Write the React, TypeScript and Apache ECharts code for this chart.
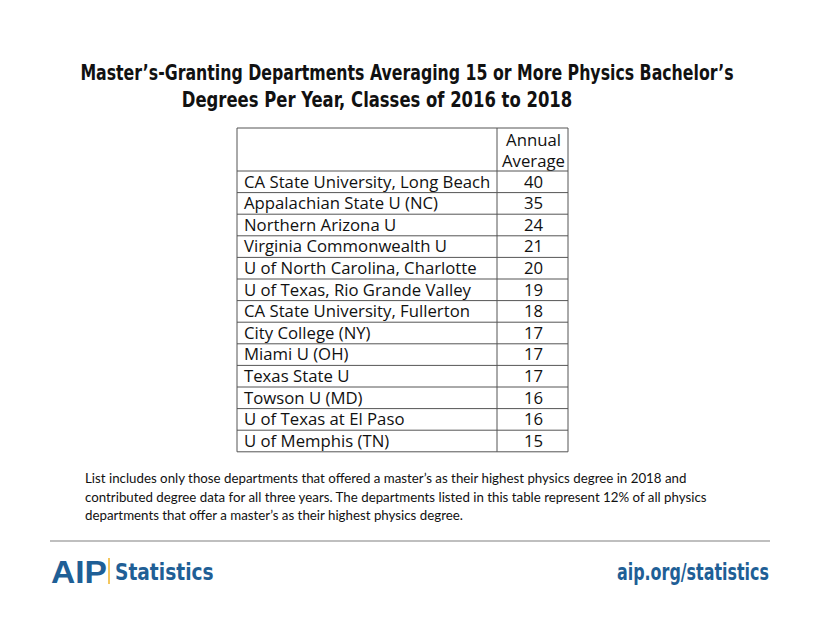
import React, { useEffect, useRef } from "react";
import * as echarts from "echarts";

const titleLines = [
  "Master\u2019s-Granting Departments Averaging 15 or More Physics Bachelor\u2019s",
  "Degrees Per Year, Classes of 2016 to 2018",
];
const headerLines = ["Annual", "Average"];
const departments = [
  "CA State University, Long Beach",
  "Appalachian State U (NC)",
  "Northern Arizona U",
  "Virginia Commonwealth U",
  "U of North Carolina, Charlotte",
  "U of Texas, Rio Grande Valley",
  "CA State University, Fullerton",
  "City College (NY)",
  "Miami U (OH)",
  "Texas State U",
  "Towson U (MD)",
  "U of Texas at El Paso",
  "U of Memphis (TN)",
];
const averages = [40, 35, 24, 21, 20, 19, 18, 17, 17, 17, 16, 16, 15];
const noteLines = [
  "List includes only those departments that offered a master\u2019s as their highest physics degree in 2018 and",
  "contributed degree data for all three years. The departments listed in this table represent 12% of all physics",
  "departments that offer a master\u2019s as their highest physics degree.",
];

const W = 820;
const H = 622;

export default function App() {
  const ref = useRef<HTMLDivElement>(null);
  useEffect(() => {
    document.body.style.margin = "0";
    const chart = echarts.init(ref.current!, null, { renderer: "svg", width: W, height: H });

    const tX0 = 237, tX1 = 568, tXd = 497;
    const tY0 = 128, hdrH = 43, rowH = 21.6;
    const lineColor = "#555";
    const tableFont = "'Open Sans', Lato, sans-serif";
    const condFont = "'DejaVu Sans Condensed', sans-serif";
    const cellScale = 1.08;
    const els: any[] = [];

    // table frame
    const tBottom = tY0 + hdrH + departments.length * rowH;
    els.push({
      type: "rect",
      shape: { x: tX0, y: tY0, width: tX1 - tX0, height: tBottom - tY0 },
      style: { fill: "none", stroke: lineColor, lineWidth: 1 },
    });
    els.push({
      type: "line",
      shape: { x1: tXd, y1: tY0, x2: tXd, y2: tBottom },
      style: { stroke: lineColor, lineWidth: 1 },
    });
    headerLines.forEach((h, i) => {
      els.push({
        type: "text",
        x: (tXd + tX1) / 2 + 1,
        y: tY0 + 12 + i * 21,
        scaleX: cellScale,
        style: { text: h, fill: "#111", font: `15.5px ${tableFont}`, textAlign: "center", textVerticalAlign: "middle" },
      });
    });
    departments.forEach((d, i) => {
      const y = tY0 + hdrH + i * rowH;
      els.push({
        type: "line",
        shape: { x1: tX0, y1: y, x2: tX1, y2: y },
        style: { stroke: lineColor, lineWidth: 1 },
      });
      els.push({
        type: "text",
        x: tX0 + 7,
        y: y + rowH / 2,
        scaleX: cellScale,
        style: { text: d, fill: "#111", font: `15.5px ${tableFont}`, textAlign: "left", textVerticalAlign: "middle" },
      });
      els.push({
        type: "text",
        x: (tXd + tX1) / 2 + 1,
        y: y + rowH / 2,
        scaleX: cellScale,
        style: { text: String(averages[i]), fill: "#111", font: `15.5px ${tableFont}`, textAlign: "center", textVerticalAlign: "middle" },
      });
    });

    // title
    const titleX = [407, 377];
    const titleScale = [0.835, 0.87];
    titleLines.forEach((t, i) => {
      els.push({
        type: "text",
        x: titleX[i],
        y: 73 + i * 27,
        scaleX: titleScale[i],
        style: {
          text: t,
          fill: "#111",
          font: `bold 21px ${condFont}`,
          textAlign: "center",
          textVerticalAlign: "middle",
        },
      });
    });

    // notes
    noteLines.forEach((t, i) => {
      els.push({
        type: "text",
        x: 85,
        y: 478 + i * 18.5,
        style: { text: t, fill: "#111", font: `13.3px Lato, sans-serif`, textAlign: "left", textVerticalAlign: "middle" },
      });
    });

    // footer
    els.push({
      type: "line",
      shape: { x1: 50, y1: 541, x2: 770, y2: 541 },
      style: { stroke: "#aaa", lineWidth: 1.5 },
    });
    els.push({
      type: "text",
      x: 51,
      y: 572,
      scaleX: 1.05,
      style: { text: "AIP", fill: "#1f5f96", font: "bold 32px 'Liberation Sans', sans-serif", textAlign: "left", textVerticalAlign: "middle" },
    });
    els.push({
      type: "line",
      shape: { x1: 109, y1: 558, x2: 109, y2: 584 },
      style: { stroke: "#f0b429", lineWidth: 1.5 },
    });
    els.push({
      type: "text",
      x: 115,
      y: 572,
      scaleX: 0.9,
      style: { text: "Statistics", fill: "#1f5f96", font: `bold 23px ${condFont}`, textAlign: "left", textVerticalAlign: "middle" },
    });
    els.push({
      type: "text",
      x: 769,
      y: 572,
      scaleX: 0.77,
      style: { text: "aip.org/statistics", fill: "#1f5f96", font: `bold 23px ${condFont}`, textAlign: "right", textVerticalAlign: "middle" },
    });

    chart.setOption({
      animation: false,
      backgroundColor: "#fff",
      graphic: { elements: els },
    });
    return () => chart.dispose();
  }, []);
  return <div ref={ref} style={{ width: W, height: H }} />;
}
